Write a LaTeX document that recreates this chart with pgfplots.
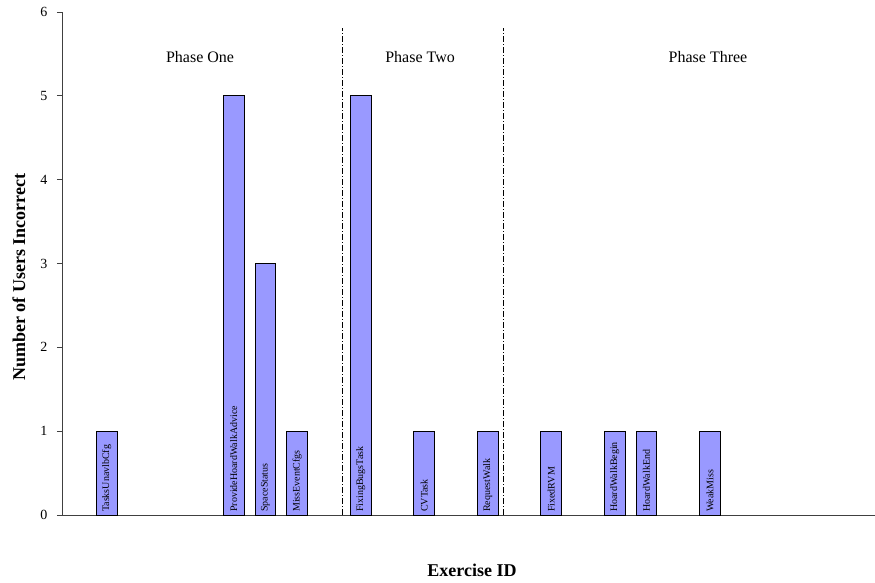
\documentclass[border=0pt]{standalone}
\usepackage{pgfplots}
\pgfplotsset{compat=1.18}
\usepackage{fontspec}
\setmainfont{Liberation Serif}
\definecolor{barblue}{HTML}{9999FF}
\begin{document}
\begin{tikzpicture}
\useasboundingbox (-62bp,-68bp) rectangle (813bp,515bp);
\begin{axis}[
  at={(0,0)}, anchor=south west,
  scale only axis,
  width=813bp, height=503bp,
  xmin=0.59, xmax=26.2,
  ymin=0, ymax=6,
  axis x line=bottom, axis y line=left,
  axis line style={-, black!75, line width=0.9bp},
  xtick=\empty,
  ytick={0,1,2,3,4,5,6},
  tick align=outside,
  major tick length=5bp,
  ytick style={black!75, line width=0.9bp},
  /pgf/number format/assume math mode=true,
  yticklabel style={font=\fontsize{14bp}{16bp}\selectfont, xshift=-6bp},
  xlabel={\textbf{Exercise ID}},
  ylabel={\textbf{Number of Users Incorrect}},
  xlabel style={at={(rel axis cs:0,0)}, anchor=center, xshift=410bp, yshift=-55bp, font=\fontsize{18bp}{20bp}\selectfont},
  ylabel style={at={(rel axis cs:0,0.473)}, anchor=center, yshift=43bp, font=\fontsize{18bp}{20bp}\selectfont},
  clip=false,
]
\addplot[ybar, bar width=20.7bp, fill=barblue, draw=black, line width=0.8bp] coordinates {
  (2,1) (6,5) (7,3) (8,1) (10,5) (12,1) (14,1) (16,1) (18,1) (19,1) (21,1)
};
\addplot[black, line width=0.9bp, dash pattern=on 6bp off 2bp on 1bp off 2bp] coordinates {(9.44,0) (9.44,5.81)};
\addplot[black, line width=0.9bp, dash pattern=on 6bp off 2bp on 1bp off 2bp] coordinates {(14.5,0) (14.5,5.81)};
\begin{scope}[every node/.style={rotate=90, anchor=west, inner sep=0pt, xshift=3bp, font=\fontsize{10bp}{11bp}\selectfont}]
\node at (axis cs:2,0) {TasksUnavlbCfg};
\node at (axis cs:6,0) {ProvideHoardWalkAdvice};
\node at (axis cs:7,0) {SpaceStatus};
\node at (axis cs:8,0) {MissEventCfgs};
\node at (axis cs:10,0) {FixingBugsTask};
\node at (axis cs:12,0) {CVTask};
\node at (axis cs:14,0) {RequestWalk};
\node at (axis cs:16,0) {FixedRVM};
\node at (axis cs:18,0) {HoardWalkBegin};
\node at (axis cs:19,0) {HoardWalkEnd};
\node at (axis cs:21,0) {WeakMiss};
\end{scope}
\begin{scope}[every node/.style={font=\fontsize{16bp}{18bp}\selectfont}]
\node at (axis cs:4.94,5.46) {Phase One};
\node at (axis cs:11.87,5.46) {Phase Two};
\node at (axis cs:20.94,5.46) {Phase Three};
\end{scope}
\end{axis}
\end{tikzpicture}
\end{document}
